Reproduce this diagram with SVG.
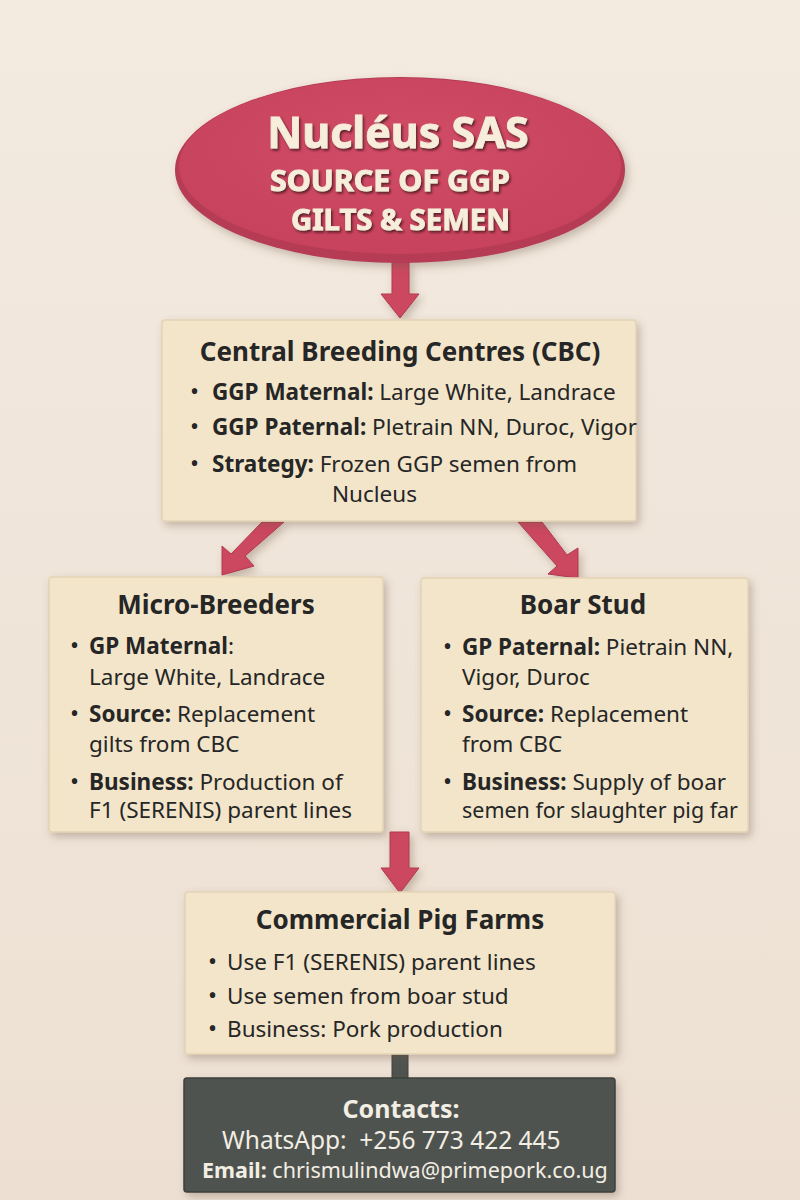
<svg xmlns="http://www.w3.org/2000/svg" width="800" height="1200" viewBox="0 0 800 1200">
<defs>
<linearGradient id="bg" x1="0" y1="0" x2="0" y2="1">
<stop offset="0" stop-color="#f3eae0"/>
<stop offset="1" stop-color="#ede0d3"/>
</linearGradient>
<radialGradient id="ov" cx="0.5" cy="0.4" r="0.6">
<stop offset="0" stop-color="#d14c66"/>
<stop offset="1" stop-color="#c7425d"/>
</radialGradient>
<filter id="sh" x="-10%" y="-10%" width="130%" height="130%">
<feDropShadow dx="3" dy="4" stdDeviation="4" flood-color="#6b5540" flood-opacity="0.35"/>
</filter>
<filter id="tsh" x="-5%" y="-20%" width="110%" height="140%">
<feDropShadow dx="1.5" dy="2" stdDeviation="0.8" flood-color="#4a1420" flood-opacity="0.85"/>
</filter>
<style>
.box{fill:#f2e5ca;stroke:#e3d3b4;stroke-width:1.5;filter:url(#sh)}
.arrow{fill:#cc4660;stroke:#b3384f;stroke-width:1;filter:url(#sh)}
.t{font-family:"Noto Sans","Open Sans","DejaVu Sans",sans-serif;fill:#262626}
.h{font-weight:bold;font-size:26px;text-anchor:middle}
.b{font-size:22.5px}
.b tspan.k{font-weight:bold}
.d{font-size:24px}
.w{font-family:"Noto Sans","Open Sans","DejaVu Sans",sans-serif;fill:#f6eddb;font-weight:bold;stroke:#f6eddb;stroke-width:0.9;filter:url(#tsh)}
.c{font-family:"Noto Sans","Open Sans","DejaVu Sans",sans-serif;fill:#f2eee4}
</style>
</defs>
<rect width="800" height="1200" fill="url(#bg)"/>

<g id="connectors">
<path class="arrow" d="M392 262 H409 V294 H419 L400 318 L381 294 H392 Z"/>
<path class="arrow" d="M262 522 H284 L245 556 L254 566 L222 575 L222 546 L231 554 Z"/>
<path class="arrow" d="M518 522 H542 L567 555 L578 548 L578 578 L548 574 L557 566 Z"/>
<path class="arrow" d="M390 832 H409 V868 H419 L400 893 L381 868 H390 Z"/>
<rect x="392" y="1054" width="16" height="26" fill="#4f5350" stroke="#3f4240" stroke-width="1"/>
</g>

<g id="nucleus">
<ellipse cx="400" cy="170" rx="225" ry="93" fill="#b63a55" filter="url(#sh)"/>
<ellipse cx="400" cy="166" rx="221" ry="88" fill="url(#ov)"/>
<text class="w" x="398" y="148" font-size="43" text-anchor="middle">Nucléus SAS</text>
<text class="w" x="270" y="191" font-size="28" textLength="240" lengthAdjust="spacingAndGlyphs">SOURCE OF GGP</text>
<text class="w" x="291" y="230" font-size="28" textLength="219" lengthAdjust="spacingAndGlyphs">GILTS &amp; SEMEN</text>
</g>

<g id="cbc">
<rect class="box" x="162" y="320" width="474" height="201" rx="3"/>
<text class="t h" x="400" y="361">Central Breeding Centres (CBC)</text>
<text class="t d" x="190" y="400">•</text>
<text class="t b" x="212" y="400"><tspan class="k">GGP Maternal:</tspan> Large White, Landrace</text>
<text class="t d" x="190" y="435">•</text>
<text class="t b" x="212" y="435"><tspan class="k">GGP Paternal:</tspan> Pletrain NN, Duroc, Vigor</text>
<text class="t d" x="190" y="472">•</text>
<text class="t b" x="212" y="472"><tspan class="k">Strategy:</tspan> Frozen GGP semen from</text>
<text class="t b" x="332" y="502">Nucleus</text>
</g>

<g id="micro-breeders">
<rect class="box" x="49" y="577" width="334" height="255" rx="3"/>
<text class="t h" x="216" y="614">Micro-Breeders</text>
<text class="t d" x="70" y="654">•</text>
<text class="t b" x="89" y="654"><tspan class="k">GP Maternal</tspan>:</text>
<text class="t b" x="89" y="685">Large White, Landrace</text>
<text class="t d" x="70" y="722">•</text>
<text class="t b" x="89" y="722"><tspan class="k">Source:</tspan> Replacement</text>
<text class="t b" x="89" y="752">gilts from CBC</text>
<text class="t d" x="70" y="790">•</text>
<text class="t b" x="89" y="790"><tspan class="k">Business:</tspan> Production of</text>
<text class="t b" x="89" y="818">F1 (SERENIS) parent lines</text>
</g>

<g id="boar-stud">
<rect class="box" x="421" y="578" width="327" height="254" rx="3"/>
<text class="t h" x="583" y="614">Boar Stud</text>
<text class="t d" x="443" y="655">•</text>
<text class="t b" x="462" y="655"><tspan class="k">GP Paternal:</tspan> Pietrain NN,</text>
<text class="t b" x="462" y="685">Vigor, Duroc</text>
<text class="t d" x="443" y="722">•</text>
<text class="t b" x="462" y="722"><tspan class="k">Source:</tspan> Replacement</text>
<text class="t b" x="462" y="752">from CBC</text>
<text class="t d" x="443" y="790">•</text>
<text class="t b" x="462" y="790"><tspan class="k">Business:</tspan> Supply of boar</text>
<text class="t b" x="462" y="818" textLength="276" lengthAdjust="spacingAndGlyphs">semen for slaughter pig far</text>
</g>

<g id="commercial">
<rect class="box" x="185" y="892" width="430" height="162" rx="3"/>
<text class="t h" x="400" y="929">Commercial Pig Farms</text>
<text class="t d" x="208" y="970">•</text>
<text class="t b" x="227" y="970">Use F1 (SERENIS) parent lines</text>
<text class="t d" x="208" y="1004">•</text>
<text class="t b" x="227" y="1004">Use semen from boar stud</text>
<text class="t d" x="208" y="1037">•</text>
<text class="t b" x="227" y="1037">Business: Pork production</text>
</g>

<g id="contacts">
<rect x="184" y="1078" width="431" height="114" rx="3" fill="#4f5350" stroke="#3d403e" stroke-width="1.5" filter="url(#sh)"/>
<text class="c" x="401" y="1118" font-size="25" font-weight="bold" text-anchor="middle">Contacts:</text>
<text class="c" x="222" y="1149" font-size="24.5" xml:space="preserve">WhatsApp:  +256 773 422 445</text>
<text class="c" x="202" y="1178" font-size="21.5"><tspan font-weight="bold">Email:</tspan> chrismulindwa@primepork.co.ug</text>
</g>
</svg>
